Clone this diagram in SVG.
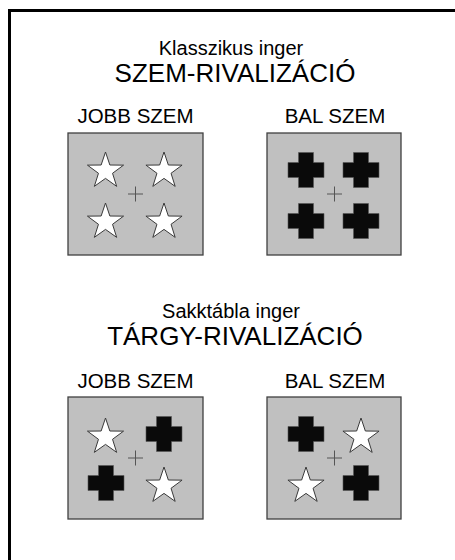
<svg xmlns="http://www.w3.org/2000/svg" width="455" height="560" viewBox="0 0 455 560">
<style>
text{font-family:"Liberation Sans",Arial,sans-serif;fill:#000;text-anchor:middle}
.sub{font-size:20px}
.head{font-size:26px}
.eye{font-size:20.5px}
.box{fill:#c0c0c0;stroke:#404040;stroke-width:1.3}
.star{fill:#fff;stroke:#3a3a3a;stroke-width:1}
.cross{fill:#0a0a0a;stroke:#555;stroke-width:0.6}
.fix{stroke:#555;stroke-width:1;fill:none}
</style>
<defs>
<polygon id="star" points="0,-19 4.35,-5.99 18.07,-5.87 7.04,2.29 11.17,15.37 0,7.4 -11.17,15.37 -7.04,2.29 -18.07,-5.87 -4.35,-5.99"/>
<polygon id="cross" points="-7.5,-17.5 7.5,-17.5 7.5,-7.5 18,-7.5 18,7.5 7.5,7.5 7.5,17.5 -7.5,17.5 -7.5,7.5 -18,7.5 -18,-7.5 -7.5,-7.5"/>
<path id="fixp" d="M-7.5,0H7.5M0,-7.5V7.5"/>
</defs>
<rect x="0" y="0" width="455" height="560" fill="#fff"/>
<path d="M9.5,570V10.5H470" fill="none" stroke="#000" stroke-width="3"/>

<g id="title1">
<text class="sub" x="231" y="55">Klasszikus inger</text>
<text class="head" x="235" y="81.5">SZEM-RIVALIZÁCIÓ</text>
</g>
<g id="label-jobb1"><text class="eye" x="135.5" y="123">JOBB SZEM</text></g>
<g id="label-bal1"><text class="eye" x="335" y="123">BAL SZEM</text></g>

<g id="box-jobb1">
<rect class="box" x="68" y="133" width="135" height="122"/>
<use href="#star" class="star" x="105.5" y="171"/>
<use href="#star" class="star" x="164" y="171"/>
<use href="#star" class="star" x="105.5" y="222"/>
<use href="#star" class="star" x="164" y="222"/>
<use href="#fixp" class="fix" x="135.5" y="194"/>
</g>
<g id="box-bal1">
<rect class="box" x="267" y="133" width="134" height="122"/>
<use href="#cross" class="cross" x="306" y="170"/>
<use href="#cross" class="cross" x="361" y="170"/>
<use href="#cross" class="cross" x="306" y="221"/>
<use href="#cross" class="cross" x="361" y="221"/>
<use href="#fixp" class="fix" x="334.5" y="194"/>
</g>

<g id="title2">
<text class="sub" x="231" y="318">Sakktábla inger</text>
<text class="head" x="235" y="344.5">TÁRGY-RIVALIZÁCIÓ</text>
</g>
<g id="label-jobb2"><text class="eye" x="135.5" y="388">JOBB SZEM</text></g>
<g id="label-bal2"><text class="eye" x="335" y="388">BAL SZEM</text></g>

<g id="box-jobb2">
<rect class="box" x="68" y="397" width="135" height="122"/>
<use href="#star" class="star" x="105.5" y="437"/>
<use href="#cross" class="cross" x="164" y="434"/>
<use href="#cross" class="cross" x="106" y="483"/>
<use href="#star" class="star" x="164" y="486"/>
<use href="#fixp" class="fix" x="135.5" y="458"/>
</g>
<g id="box-bal2">
<rect class="box" x="267" y="397" width="134" height="122"/>
<use href="#cross" class="cross" x="306" y="434"/>
<use href="#star" class="star" x="361" y="437"/>
<use href="#star" class="star" x="306" y="486"/>
<use href="#cross" class="cross" x="361" y="483"/>
<use href="#fixp" class="fix" x="334.5" y="458"/>
</g>
<g id="connectors"/>
</svg>
